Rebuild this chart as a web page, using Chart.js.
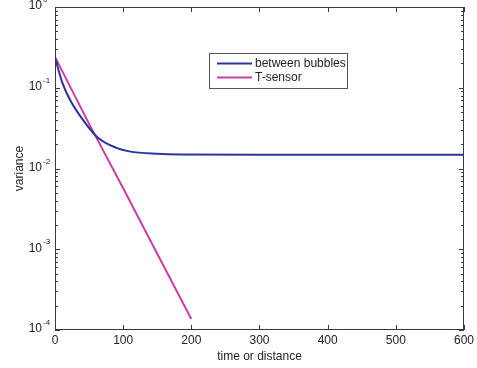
<!DOCTYPE html>
<html>
<head>
<meta charset="utf-8">
<script src="https://cdn.jsdelivr.net/npm/chart.js@4"></script>
<style>
  html, body { margin: 0; padding: 0; background: #fff; }
  #wrap { width: 477px; height: 368px; }
</style>
</head>
<body>
<div id="wrap"><canvas id="varChart"></canvas></div>
<script>
// values
const bubblesT = [0, 11, 22, 41, 63, 90, 109, 150, 185, 300, 450, 600];
const bubblesVar = [0.235, 0.114, 0.071, 0.040, 0.024, 0.018, 0.0163, 0.0152, 0.0149, 0.0148, 0.0148, 0.0148];
const sensorT = [0, 50, 100, 150, 200];
const sensorVar = [0.241, 0.0357, 0.0057, 0.00088, 0.000137];

const xTicks = [0, 100, 200, 300, 400, 500, 600];
const yDecades = [1, 0.1, 0.01, 0.001, 0.0001];
const yExponents = ['0', '-1', '-2', '-3', '-4'];

const seriesNames = ['between bubbles', 'T-sensor'];
const seriesColors = ['rgb(42, 52, 158)', 'rgb(204, 62, 164)'];

const axisColor = '#3a3a3a';
const fontFamily = '"Liberation Sans", Arial, sans-serif';

const toPoints = (xs, ys) => xs.map((x, i) => ({ x: x, y: ys[i] }));

// MATLAB style box, inward ticks, y labels with exponents and the legend
const matlabAxes = {
    id: 'matlabAxes',
    afterDraw(chart) {
        const ctx = chart.ctx;
        const area = chart.chartArea;
        const xs = chart.scales.x;
        const ys = chart.scales.y;
        ctx.save();
        ctx.strokeStyle = axisColor;
        ctx.lineWidth = 1;
        ctx.strokeRect(area.left + 0.5, area.top + 0.5, area.right - area.left - 1, area.bottom - area.top - 1);

        ctx.beginPath();
        xTicks.forEach(v => {
            const px = Math.round(xs.getPixelForValue(v)) + 0.5;
            ctx.moveTo(px, area.bottom);
            ctx.lineTo(px, area.bottom - 5);
            ctx.moveTo(px, area.top);
            ctx.lineTo(px, area.top + 5);
        });
        yDecades.forEach((d, i) => {
            const py = Math.round(ys.getPixelForValue(d)) + 0.5;
            ctx.moveTo(area.left, py);
            ctx.lineTo(area.left + 5, py);
            ctx.moveTo(area.right, py);
            ctx.lineTo(area.right - 5, py);
            if (i < yDecades.length - 1) {
                for (let m = 2; m <= 9; m++) {
                    const my = Math.round(ys.getPixelForValue(yDecades[i + 1] * m)) + 0.5;
                    ctx.moveTo(area.left, my);
                    ctx.lineTo(area.left + 3, my);
                    ctx.moveTo(area.right, my);
                    ctx.lineTo(area.right - 3, my);
                }
            }
        });
        ctx.stroke();

        ctx.fillStyle = '#222';
        yDecades.forEach((d, i) => {
            const py = ys.getPixelForValue(d);
            ctx.font = '12px ' + fontFamily;
            ctx.textAlign = 'right';
            ctx.textBaseline = 'middle';
            ctx.fillText('10', area.left - 13, py - 1);
            ctx.font = '8px ' + fontFamily;
            ctx.textAlign = 'left';
            ctx.textBaseline = 'alphabetic';
            ctx.fillText(yExponents[i], area.left - 12, py - 5);
        });

        // legend box
        const bx = 209, by = 53, bw = 138, bh = 35;
        ctx.fillStyle = '#fff';
        ctx.fillRect(bx, by, bw, bh);
        ctx.strokeStyle = '#555';
        ctx.strokeRect(bx + 0.5, by + 0.5, bw, bh);
        ctx.font = '12px ' + fontFamily;
        ctx.textAlign = 'left';
        ctx.textBaseline = 'middle';
        chart.data.datasets.forEach((ds, i) => {
            const ly = by + 10.5 + i * 14;
            ctx.strokeStyle = ds.borderColor;
            ctx.lineWidth = 2;
            ctx.beginPath();
            ctx.moveTo(bx + 8, ly);
            ctx.lineTo(bx + 43, ly);
            ctx.stroke();
            ctx.fillStyle = '#222';
            ctx.fillText(ds.label, bx + 46, ly);
        });
        ctx.restore();
    }
};

new Chart(document.getElementById('varChart'), {
    type: 'line',
    data: {
        datasets: [
            {
                label: seriesNames[0],
                data: toPoints(bubblesT, bubblesVar),
                borderColor: seriesColors[0],
                borderWidth: 2,
                pointRadius: 0,
                cubicInterpolationMode: 'monotone',
            },
            {
                label: seriesNames[1],
                data: toPoints(sensorT, sensorVar),
                borderColor: seriesColors[1],
                borderWidth: 2,
                pointRadius: 0,
            },
        ],
    },
    options: {
        responsive: true,
        maintainAspectRatio: false,
        animation: false,
        layout: { padding: { top: 7, right: 10, left: 0, bottom: 0 } },
        plugins: {
            legend: { display: false },
            tooltip: { enabled: false },
        },
        scales: {
            x: {
                type: 'linear',
                min: 0,
                max: 600,
                afterBuildTicks: axis => { axis.ticks = xTicks.map(v => ({ value: v })); },
                afterFit: axis => { axis.height = 38; },
                grid: { display: false, drawTicks: false },
                border: { display: false },
                ticks: { color: '#222', padding: 3, font: { family: fontFamily, size: 12 } },
                title: {
                    display: true,
                    text: 'time or distance',
                    color: '#222',
                    padding: { top: 4, bottom: 4 },
                    font: { family: fontFamily, size: 12 },
                },
            },
            y: {
                type: 'logarithmic',
                min: 0.0001,
                max: 1,
                afterFit: axis => { axis.width = 55; },
                grid: { display: false, drawTicks: false },
                border: { display: false },
                ticks: { display: false },
                title: {
                    display: true,
                    text: 'variance',
                    color: '#222',
                    padding: { top: 12, bottom: 12 },
                    font: { family: fontFamily, size: 12 },
                },
            },
        },
    },
    plugins: [matlabAxes],
});
</script>
</body>
</html>
